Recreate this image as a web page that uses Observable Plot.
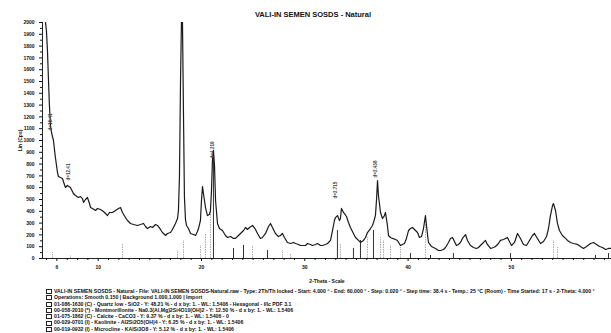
<!DOCTYPE html>
<html>
<head>
<meta charset="utf-8">
<script src="https://cdn.jsdelivr.net/npm/d3@7"></script>
<script src="https://cdn.jsdelivr.net/npm/@observablehq/plot@0.6"></script>
<style>
  html, body { margin: 0; padding: 0; background: #fff; }
  body { width: 611px; height: 333px; overflow: hidden; font-family: "Liberation Sans", Arial, sans-serif; color: #111; }
  #title { height: 20px; box-sizing: border-box; padding-top: 11px; line-height: 8px; font-size: 7.5px; font-weight: bold; text-align: center; padding-left: 15px; }
  #chart svg { display: block; }
  #legend { margin-top: -2px; padding-left: 46px; font-size: 5.2px; font-weight: bold; line-height: 6.3px; white-space: nowrap; }
  #legend .icon { display: inline-block; width: 4px; height: 3px; border: 0.6px solid #222; margin-right: 2px; vertical-align: middle; }
</style>
</head>
<body>
<div id="title"></div>
<div id="chart"></div>
<div id="legend"></div>
<script>
// ---------- data ----------
const chartTitle = "VALI-IN SEMEN SOSDS - Natural";
const xLabel = "2-Theta - Scale";
const yLabel = "Lin (Cps)";
const xDomain = [4.61, 59.69];
const yDomain = [0, 2000];
const xTicks = [6, 10, 20, 30, 40, 50];
const xMinorTicks = [5,7,8,9,11,12,13,14,15,16,17,18,19,21,22,23,24,25,26,27,28,29,31,32,33,34,35,36,37,38,39,41,42,43,44,45,46,47,48,49,51,52,53,54,55,56,57,58,59];
const yTicks = [0,100,200,300,400,500,600,700,800,900,1000,1100,1200,1300,1400,1500,1600,1700,1800,1900,2000];
const yMinorTicks = [50,150,250,350,450,550,650,750,850,950,1050,1150,1250,1350,1450,1550,1650,1750,1850,1950];

// measured scan
const twoTheta = [4.90,4.99,5.09,5.19,5.28,5.38,5.48,5.67,5.86,6.06,6.15,6.35,6.54,6.73,6.83,7.02,7.31,7.51,7.60,7.80,8.09,8.29,8.48,8.58,8.77,8.96,9.16,9.26,9.45,9.74,9.93,10.22,10.51,10.71,10.90,11.09,11.38,11.68,11.97,12.16,12.35,12.64,12.84,13.13,13.42,13.80,14.10,14.39,14.58,14.77,15.06,15.26,15.55,15.74,16.03,16.22,16.52,16.71,17.00,17.19,17.48,17.68,17.77,17.87,17.97,18.06,18.16,18.26,18.35,18.45,18.55,18.74,18.94,19.23,19.42,19.61,19.71,19.90,20.00,20.10,20.19,20.39,20.58,20.77,20.87,20.97,21.06,21.16,21.26,21.36,21.55,21.74,22.03,22.32,22.52,22.81,23.10,23.29,23.58,23.78,24.07,24.26,24.45,24.65,24.94,25.23,25.42,25.71,25.90,26.20,26.49,26.68,26.87,27.16,27.45,27.65,27.84,28.03,28.32,28.62,28.91,29.10,29.39,29.58,29.87,30.07,30.26,30.55,30.74,31.04,31.23,31.52,31.71,32.00,32.20,32.49,32.68,32.87,32.97,33.16,33.36,33.45,33.55,33.75,34.04,34.23,34.42,34.71,34.91,35.20,35.39,35.68,35.88,36.07,36.36,36.55,36.65,36.84,36.94,37.04,37.13,37.33,37.52,37.71,37.81,38.00,38.10,38.30,38.49,38.78,38.97,39.26,39.46,39.65,39.84,40.04,40.23,40.42,40.72,40.91,41.10,41.30,41.49,41.68,41.78,41.97,42.26,42.65,42.94,43.14,43.43,43.62,43.91,44.10,44.30,44.49,44.68,44.88,45.07,45.26,45.56,45.75,46.04,46.33,46.62,46.81,47.10,47.30,47.49,47.68,47.98,48.27,48.46,48.75,48.94,49.23,49.43,49.62,49.81,50.01,50.30,50.59,50.88,51.17,51.46,51.75,52.04,52.23,52.52,52.82,53.11,53.40,53.59,53.78,53.98,54.07,54.27,54.46,54.65,54.94,55.24,55.43,55.72,56.01,56.40,56.69,56.98,57.27,57.66,57.95,58.24,58.53,58.82,59.11,59.40,59.69];
const counts = [2000,1932,1763,1509,1297,1127,1068,1000,856,729,695,686,678,627,602,619,602,568,551,534,517,525,508,475,500,517,466,432,424,407,424,415,398,381,364,390,390,407,424,432,390,347,322,297,288,280,288,297,271,254,271,263,288,280,246,220,195,212,220,246,297,339,407,700,1500,2000,2000,1200,520,330,280,254,212,203,195,229,254,322,492,610,551,432,364,373,407,576,831,915,788,492,297,254,237,195,178,186,170,170,195,212,237,263,246,263,280,246,212,170,178,212,271,297,263,212,186,195,212,178,136,127,136,127,119,110,110,110,127,119,110,119,127,110,110,119,127,153,237,322,347,364,322,339,424,390,356,305,263,212,178,153,136,153,178,220,254,280,305,364,492,661,534,390,339,364,390,280,195,178,170,161,153,110,119,127,170,237,254,263,237,220,178,186,254,364,280,136,102,85,68,68,76,93,136,170,178,144,110,119,136,170,203,153,110,93,85,93,119,136,153,119,85,93,102,127,153,161,170,178,144,110,136,212,170,119,110,153,195,212,170,127,144,186,254,364,449,466,407,297,237,195,170,153,136,127,119,102,85,102,127,136,119,102,93,76,85,85];

// reference-pattern sticks (dark = main phase, grey = other phases)
const stickTheta  = [5.58,7.31,12.35,17.68,18.26,19.90,20.39,20.87,21.16,23.10,24.07,24.94,26.39,27.84,28.62,33.16,33.45,34.71,35.39,36.07,36.65,37.33,37.62,38.30,39.26,40.23,41.68,42.17,44.39,49.91,54.07,54.46,58.14,59.40];
const stickCounts = [51,25,127,68,153,110,212,432,915,85,110,110,68,68,42,237,127,85,153,178,237,178,153,110,93,42,322,25,42,42,153,93,25,42];
const stickDark   = [0,0,0,0,0,0,0,0,1,1,1,0,1,0,0,1,0,1,1,0,1,0,0,0,0,1,0,1,1,1,0,0,1,1];

// peak annotations
const peakTheta  = [5.38, 7.12, 21.06, 32.97, 36.84];
const peakCounts = [1085, 661, 848, 508, 686];
const peakLabels = ["d=16.41", "d=12.41", "d=4.216", "d=2.715", "d=2.438"];

const legendLines = [
  "VALI-IN SEMEN SOSDS - Natural - File: VALI-IN SEMEN SOSDS-Natural.raw - Type: 2Th/Th locked - Start: 4.000 ° - End: 60.000 ° - Step: 0.020 ° - Step time: 38.4 s - Temp.: 25 °C (Room) - Time Started: 17 s - 2-Theta: 4.000 °",
  "Operations: Smooth 0.150 | Background 1.000,1.000 | Import",
  "01-086-1630 (C) - Quartz low - SiO2 - Y: 48.21 % - d x by: 1. - WL: 1.5406 - Hexagonal - I/Ic PDF 3.1",
  "00-058-2010 (*) - Montmorillonite - Na0.3(Al,Mg)2Si4O10(OH)2 - Y: 12.50 % - d x by: 1. - WL: 1.5406",
  "01-075-1862 (C) - Calcite - CaCO3 - Y: 9.37 % - d x by: 1. - WL: 1.5406 - 0",
  "00-029-0701 (I) - Kaolinite - Al2Si2O5(OH)4 - Y: 6.25 % - d x by: 1. - WL: 1.5406",
  "00-019-0932 (I) - Microcline - KAlSi3O8 - Y: 5.12 % - d x by: 1. - WL: 1.5406"
];

// ---------- build ----------
const scan = twoTheta.map((t, i) => ({t, c: counts[i]}));
const sticks = stickTheta.map((t, i) => ({t, c: stickCounts[i], dark: stickDark[i] === 1}));
const peaks = peakTheta.map((t, i) => ({t, c: peakCounts[i], label: peakLabels[i]}));

document.getElementById("title").textContent = chartTitle;

const chart = Plot.plot({
  width: 611,
  height: 270,
  marginTop: 2,
  marginLeft: 42,
  marginRight: 0,
  marginBottom: 32,
  style: {fontFamily: "Liberation Sans, Arial, sans-serif", fontSize: "5px", fontWeight: "bold", background: "#fff", color: "#111"},
  x: {domain: xDomain},
  y: {domain: yDomain},
  marks: [
    Plot.ruleX(sticks.filter(d => !d.dark), {x: "t", y1: 0, y2: "c", stroke: "#aaa", strokeWidth: 1, strokeDasharray: "1.5,1"}),
    Plot.ruleX(sticks.filter(d => d.dark), {x: "t", y1: 0, y2: "c", stroke: "#333", strokeWidth: 1}),
    Plot.line(scan, {x: "t", y: "c", stroke: "#1a1a1a", strokeWidth: 1.2, clip: true}),
    Plot.text(peaks, {x: "t", y: "c", text: "label", rotate: -90, textAnchor: "start", fontSize: 4.6, fill: "#444"}),
    Plot.ruleX([xDomain[0]], {stroke: "#222", strokeWidth: 1}),
    Plot.ruleY([yDomain[0]], {stroke: "#222", strokeWidth: 1.2}),
    Plot.axisY({ticks: yTicks, tickSize: 3, tickPadding: 5, fontSize: 5, tickFormat: d3.format("d"), label: yLabel, labelAnchor: "center", labelOffset: 24, labelArrow: false}),
    Plot.axisY({ticks: yMinorTicks, tickSize: 2, tickFormat: () => "", label: null}),
    Plot.axisX({ticks: xTicks, tickSize: 3, tickPadding: 4, fontSize: 5, tickFormat: d3.format("d"), label: xLabel, labelAnchor: "center", labelOffset: 24, labelArrow: false}),
    Plot.axisX({ticks: xMinorTicks, tickSize: 2, tickFormat: () => "", label: null})
  ]
});
document.getElementById("chart").appendChild(chart);

const legend = document.getElementById("legend");
for (const line of legendLines) {
  const div = document.createElement("div");
  const icon = document.createElement("span");
  icon.className = "icon";
  div.appendChild(icon);
  div.appendChild(document.createTextNode(line));
  legend.appendChild(div);
}
</script>
</body>
</html>
